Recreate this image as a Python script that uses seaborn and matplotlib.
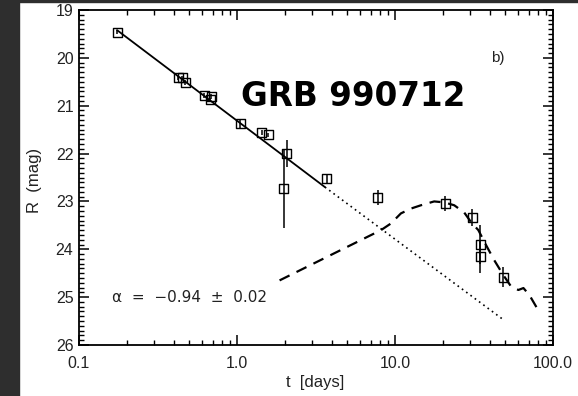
import numpy as np
import pandas as pd
import matplotlib
matplotlib.use("Agg")
import matplotlib.pyplot as plt
import seaborn as sns
from matplotlib.ticker import FixedLocator, LogLocator, MultipleLocator, NullFormatter, FixedFormatter
from matplotlib.patches import Rectangle

# ---- data ----
obs_t   = [0.174, 0.426, 0.451, 0.471, 0.622, 0.689, 0.675, 1.05, 1.43, 1.58, 2.06, 1.97, 3.70, 7.8, 20.8, 30.8, 34.7, 34.7, 48.5]
obs_mag = [19.46, 20.42, 20.42, 20.52, 20.79, 20.81, 20.88, 21.38, 21.56, 21.61, 22.00, 22.73, 22.52, 22.92, 23.04, 23.33, 23.90, 24.15, 24.58]
obs_err = [0.04, 0.05, 0.05, 0.05, 0.05, 0.05, 0.05, 0.10, 0.05, 0.05, 0.28, 0.83, 0.10, 0.15, 0.15, 0.18, 0.40, 0.35, 0.20]

fit_t_solid   = [0.174, 3.6]
fit_mag_solid = [19.42, 22.70]
fit_t_dot     = [3.6, 48.0]
fit_mag_dot   = [22.70, 25.46]

sn_t   = [1.86, 8.15, 9.43, 10.9, 12.6, 14.6, 17.7, 20.5, 23.7, 27.4, 30.4, 33.7, 37.8, 42.5, 48.5, 54.6, 60.4, 65.0, 71.0, 78.6]
sn_mag = [24.65, 23.60, 23.46, 23.25, 23.15, 23.08, 23.00, 23.02, 23.08, 23.23, 23.44, 23.60, 23.92, 24.23, 24.54, 24.79, 24.85, 24.81, 24.96, 25.21]

x_ticks = [0.1, 1.0, 10.0, 100.0]
x_tick_labels = ["0.1", "1.0", "10.0", "100.0"]
y_ticks = [19, 20, 21, 22, 23, 24, 25, 26]

title_text = "GRB 990712"
panel_text = "b)"
alpha_text = "α  =  −0.94  ±  0.02"

# ---- figure ----
sns.set_theme(style="ticks")
plt.rcParams['font.family'] = ['Liberation Sans', 'DejaVu Sans']
plt.rcParams['mathtext.fontset'] = 'dejavusans'

fig = plt.figure(figsize=(5.78, 3.96), dpi=100)
fig.patch.set_facecolor("white")
fig.patches.append(Rectangle((0, 0), 19/578, 1, transform=fig.transFigure, color="#2e2e2e", zorder=-10))
fig.patches.append(Rectangle((0, 1 - 2/396), 1, 2/396, transform=fig.transFigure, color="#2e2e2e", zorder=-10))

ax = fig.add_axes([79/578, 1 - 345/396, (553 - 79)/578, (345 - 10)/396])
ax.set_facecolor("white")

solid_df = pd.DataFrame({"t": fit_t_solid, "mag": fit_mag_solid})
dot_df = pd.DataFrame({"t": fit_t_dot, "mag": fit_mag_dot})
sn_df = pd.DataFrame({"t": sn_t, "mag": sn_mag})
obs_df = pd.DataFrame({"t": obs_t, "mag": obs_mag, "err": obs_err})

sns.lineplot(data=solid_df, x="t", y="mag", ax=ax, color="black", lw=1.3, sort=False)
sns.lineplot(data=dot_df, x="t", y="mag", ax=ax, color="black", lw=1.2, sort=False,
             linestyle=(0, (1, 2.2)))
sns.lineplot(data=sn_df, x="t", y="mag", ax=ax, color="black", lw=1.6, sort=False,
             linestyle=(0, (5, 3.5)))

ax.errorbar(obs_df["t"], obs_df["mag"], yerr=obs_df["err"], fmt="none", ecolor="black",
            elinewidth=1.1, capsize=0, zorder=3)
sns.scatterplot(data=obs_df, x="t", y="mag", ax=ax, marker="s", s=42,
                facecolors="none", edgecolor="black", linewidth=1.0, zorder=4)

ax.set_xscale("log")
ax.set_xlim(0.1, 100)
ax.set_ylim(26, 19)

ax.xaxis.set_major_locator(FixedLocator(x_ticks))
ax.xaxis.set_major_formatter(FixedFormatter(x_tick_labels))
ax.xaxis.set_minor_locator(LogLocator(base=10, subs=np.arange(2, 10)))
ax.xaxis.set_minor_formatter(NullFormatter())
ax.yaxis.set_major_locator(FixedLocator(y_ticks))
ax.yaxis.set_minor_locator(MultipleLocator(0.1))

ax.tick_params(which="both", direction="in", top=True, right=True, color="black", labelcolor="#222222")
ax.tick_params(which="major", length=7, width=1.1, labelsize=11.5)
ax.tick_params(which="minor", length=3.5, width=1.0)
ax.tick_params(axis="y", which="major", pad=4)
ax.tick_params(axis="x", which="major", pad=8)
for s in ax.spines.values():
    s.set_linewidth(1.3)
    s.set_color("black")

ax.set_xlabel("t  [days]", fontsize=12, color="#222222")
ax.set_ylabel("R  (mag)", fontsize=12, color="#222222")
ax.xaxis.set_label_coords(0.498, -0.09)
ax.yaxis.set_label_coords(-0.078, 0.49)

ax.text(0.578, 0.743, title_text, transform=ax.transAxes, fontsize=23.5, fontweight="bold",
        family=["DejaVu Sans"], ha="center", va="center", color="black")
ax.text(0.884, 0.857, panel_text, transform=ax.transAxes, fontsize=11, ha="center",
        va="center", color="#222222")
ax.text(0.07, 0.143, alpha_text, transform=ax.transAxes, fontsize=11, ha="left",
        va="center", color="#222222", family=["DejaVu Sans"])

fig.savefig("out.png", dpi=100)
